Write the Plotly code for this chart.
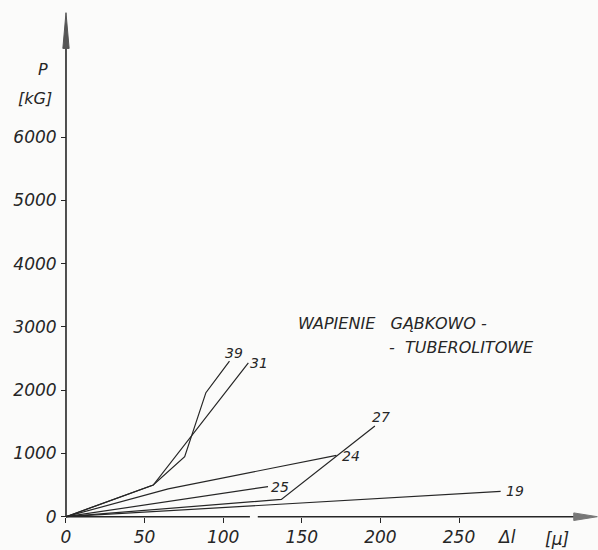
import plotly.graph_objects as go

# ---- data (Δl in μ, P in kG) ----
series_names = ["39", "31", "24", "25", "27", "19"]
dl_39 = [0, 55.5, 75.5, 89, 104]
p_39 = [0, 500, 950, 1960, 2460]
dl_31 = [0, 55.5, 116]
p_31 = [0, 500, 2430]
dl_24 = [0, 65, 172]
p_24 = [0, 440, 970]
dl_25 = [0, 128.5]
p_25 = [0, 475]
dl_27 = [0, 137, 196.5]
p_27 = [0, 274, 1434]
dl_19 = [0, 276.5]
p_19 = [0, 400]

x_ticks = [0, 50, 100, 150, 200, 250]
y_ticks = [0, 1000, 2000, 3000, 4000, 5000, 6000]

xs = [dl_39, dl_31, dl_24, dl_25, dl_27, dl_19]
ys = [p_39, p_31, p_24, p_25, p_27, p_19]
# label offsets (px) relative to the last point of each line
label_shift = {"39": (5, 8), "31": (11, 0), "24": (15, -1), "25": (12, 0), "27": (6, 9), "19": (14, 0)}

INK = "#262626"
FONT = "DejaVu Sans"

fig = go.Figure()
annotations = []
for name, x, y in zip(series_names, xs, ys):
    fig.add_trace(go.Scatter(x=x, y=y, mode="lines", name=name,
                             line=dict(color=INK, width=1.2), showlegend=False,
                             hoverinfo="skip"))
    dx, dy = label_shift[name]
    annotations.append(dict(x=x[-1], y=y[-1], xref="x", yref="y", text=name,
                            showarrow=False, xshift=dx, yshift=dy,
                            xanchor="center", yanchor="middle",
                            font=dict(family=FONT, size=14, color=INK, style="italic")))

# axis geometry
X_MIN, X_MAX = -41.98, 338.42
Y_MIN, Y_MAX = -526.2, 8165.3

shapes = [
    # y axis line
    dict(type="line", xref="x", yref="y", x0=0, x1=0, y0=0, y1=7700,
         line=dict(color=INK, width=1.6)),
    # y arrow head
    dict(type="path", xref="x", yref="y", path="M -2,7400 L 0,7965 L 2,7400 Z",
         fillcolor="#555", line=dict(color="#555", width=1)),
    # x axis line (with small break as in the drawing)
    dict(type="line", xref="x", yref="y", x0=0, x1=117, y0=0, y1=0,
         line=dict(color=INK, width=1.6)),
    dict(type="line", xref="x", yref="y", x0=122, x1=326, y0=0, y1=0,
         line=dict(color=INK, width=1.6)),
    # x arrow head
    dict(type="path", xref="x", yref="y", path="M 323,-60 L 338,0 L 323,60 Z",
         fillcolor="#777", line=dict(color="#777", width=1)),
]

paper_notes = [
    dict(x=43, y=70, text="P", size=16, xanchor="center"),
    dict(x=35, y=98, text="[kG]", size=16, xanchor="center"),
    dict(x=506, y=537, text="Δl", size=17, xanchor="center"),
    dict(x=557, y=539, text="[μ]", size=17, xanchor="center"),
    dict(x=296, y=323, text="WAPIENIE   GĄBKOWO -", size=16, xanchor="left"),
    dict(x=387, y=347, text="-  TUBEROLITOWE", size=16, xanchor="left"),
]
for n in paper_notes:
    annotations.append(dict(x=n["x"] / 598, y=1 - n["y"] / 550, xref="paper", yref="paper",
                            text=n["text"], showarrow=False,
                            xanchor=n["xanchor"], yanchor="middle",
                            font=dict(family=FONT, size=n["size"], color=INK, style="italic")))

fig.update_layout(
    width=598, height=550,
    margin=dict(l=0, r=0, t=0, b=0),
    paper_bgcolor="#fbfbfa", plot_bgcolor="#fbfbfa",
    shapes=shapes, annotations=annotations,
    xaxis=dict(range=[X_MIN, X_MAX], anchor="free", position=33.3 / 550,
               showgrid=False, zeroline=False, showline=False,
               tickvals=x_ticks, ticktext=[str(v) for v in x_ticks],
               ticks="outside", ticklen=5, tickcolor=INK, ticklabelstandoff=0,
               tickfont=dict(family=FONT, size=17, color=INK, style="italic")),
    yaxis=dict(range=[Y_MIN, Y_MAX], anchor="free", position=66 / 598,
               showgrid=False, zeroline=False, showline=False,
               tickvals=y_ticks, ticktext=[str(v) for v in y_ticks],
               ticks="outside", ticklen=5, tickcolor=INK, ticklabelstandoff=1,
               tickfont=dict(family=FONT, size=17, color=INK, style="italic")),
)

fig.write_html("out.html")
